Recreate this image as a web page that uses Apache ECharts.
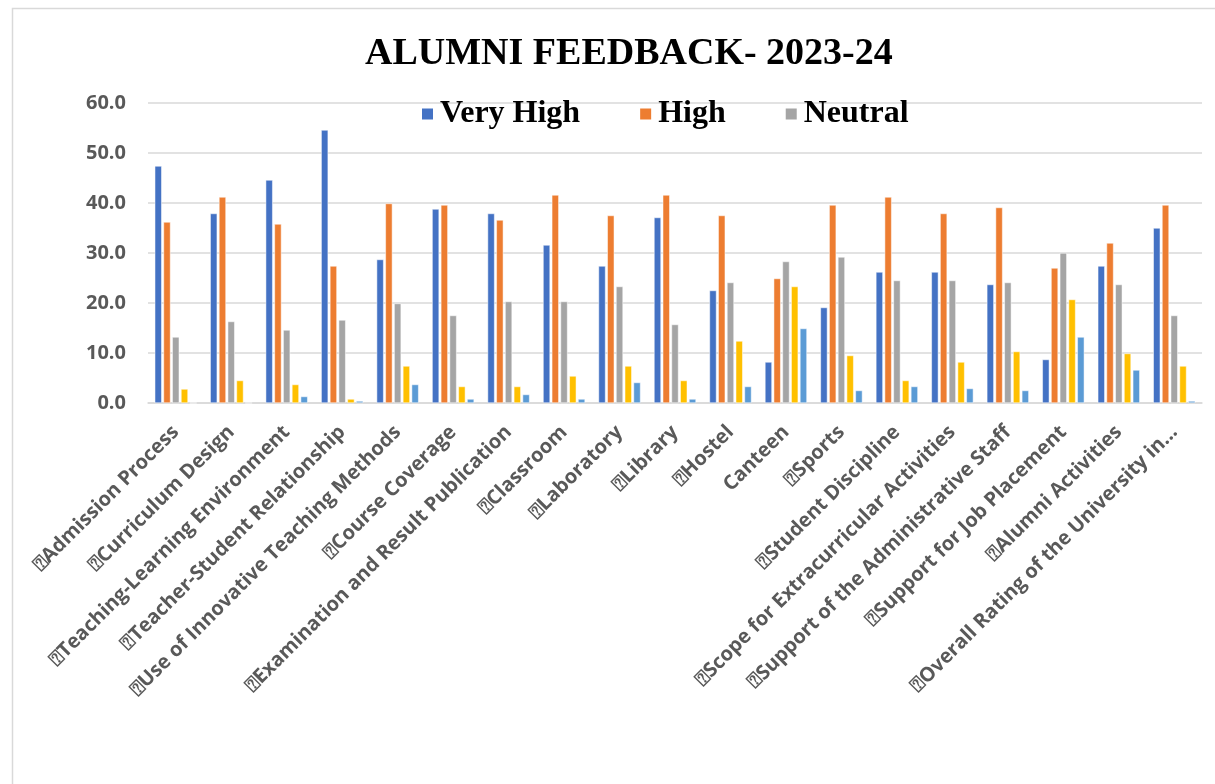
<!DOCTYPE html>
<html>
<head>
<meta charset="utf-8">
<script src="https://cdn.jsdelivr.net/npm/echarts@6/dist/echarts.min.js"></script>
<style>
html,body{margin:0;padding:0;background:#fff;}
#chart{width:1215px;height:784px;}
</style>
</head>
<body>
<div id="chart"></div>
<script>
const titleText = 'ALUMNI FEEDBACK- 2023-24';
const B = '\u2370';
const categories = [
  B+'Admission Process', B+'Curriculum Design', B+'Teaching-Learning Environment',
  B+'Teacher-Student Relationship', B+'Use of Innovative Teaching Methods', B+'Course Coverage',
  B+'Examination and Result Publication', B+'Classroom', B+'Laboratory', B+'Library',
  B+'Hostel', 'Canteen', B+'Sports', B+'Student Discipline',
  B+'Scope for Extracurricular Activities', B+'Support of the Administrative Staff',
  B+'Support for Job Placement', B+'Alumni Activities', B+'Overall Rating of the University in...'
];
const seriesNames = ['Very High', 'High', 'Neutral', 'Low', 'Very Low'];
const legendNames = ['Very High', 'High', 'Neutral'];
const veryHigh = [47.4, 37.9, 44.6, 54.6, 28.7, 38.8, 37.9, 31.6, 27.4, 37.1, 22.5, 8.2, 19.1, 26.2, 26.2, 23.7, 8.7, 27.4, 35.0];
const high     = [36.2, 41.2, 35.8, 27.4, 39.9, 39.6, 36.6, 41.6, 37.5, 41.6, 37.5, 24.9, 39.6, 41.2, 37.9, 39.1, 27.0, 32.0, 39.6];
const neutral  = [13.2, 16.3, 14.6, 16.6, 19.9, 17.5, 20.3, 20.3, 23.3, 15.7, 24.1, 28.3, 29.2, 24.5, 24.5, 24.1, 30.0, 23.7, 17.5];
const low      = [2.8, 4.5, 3.7, 0.8, 7.4, 3.3, 3.3, 5.4, 7.4, 4.5, 12.4, 23.3, 9.5, 4.5, 8.2, 10.3, 20.7, 9.9, 7.4];
const veryLow  = [0.0, 0.0, 1.3, 0.4, 3.7, 0.8, 1.7, 0.8, 4.1, 0.8, 3.3, 14.9, 2.5, 3.3, 2.9, 2.5, 13.2, 6.6, 0.4];
const colors = ['#4472C4', '#ED7D31', '#A5A5A5', '#FFC000', '#5B9BD5'];
const yTicks = {min: 0, max: 60, interval: 10};

const allData = [veryHigh, high, neutral, low, veryLow];
const chart = echarts.init(document.getElementById('chart'));
chart.setOption({
  animation: false,
  backgroundColor: '#ffffff',
  color: colors,
  graphic: [{
    type: 'rect', left: 10, top: 6, z: -10, silent: true,
    shape: {width: 1400, height: 1000},
    style: {fill: 'none', stroke: '#d9d9d9', lineWidth: 1.5}
  }],
  title: {
    text: titleText, left: 360, top: 28,
    textStyle: {fontFamily: 'Liberation Serif', fontWeight: 'bold', fontSize: 38, color: '#000', lineHeight: 42}
  },
  legend: {
    data: legendNames, left: 415, top: 93,
    itemWidth: 13, itemHeight: 13, itemGap: 58, icon: 'rect',
    textStyle: {fontFamily: 'Liberation Serif', fontWeight: 'bold', fontSize: 32, color: '#000', padding: [0,0,0,1]}
  },
  grid: {left: 148, right: 13, top: 103, bottom: 381, containLabel: false},
  xAxis: {
    type: 'category', data: categories,
    axisLine: {lineStyle: {color: '#d9d9d9', width: 1.5}},
    axisTick: {show: false},
    axisLabel: {interval: 0, rotate: 45, margin: 26, color: '#595959', fontWeight: 'bold', fontSize: 20, fontFamily: 'Open Sans'}
  },
  yAxis: {
    type: 'value', min: yTicks.min, max: yTicks.max, interval: yTicks.interval,
    axisLine: {show: false}, axisTick: {show: false},
    splitLine: {lineStyle: {color: '#d9d9d9', width: 1.5}},
    axisLabel: {margin: 22, color: '#595959', fontWeight: 'bold', fontSize: 20, fontFamily: 'Open Sans',
      formatter: v => v.toFixed(1)}
  },
  series: seriesNames.map((n, i) => ({
    name: n, type: 'bar', data: allData[i], barWidth: 7, barGap: '25%',
    itemStyle: {color: colors[i], borderColor: '#ffffff', borderWidth: 0.5}
  }))
});
</script>
</body>
</html>
